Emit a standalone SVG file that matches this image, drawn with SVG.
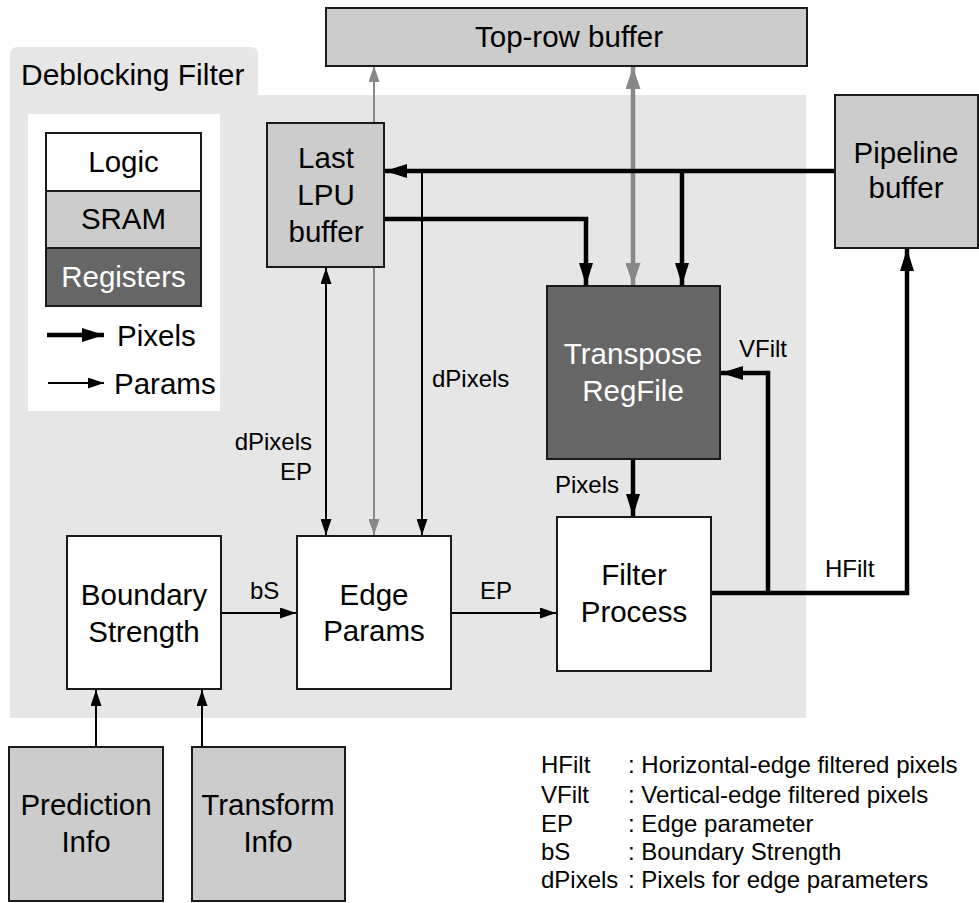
<svg xmlns="http://www.w3.org/2000/svg" width="979" height="903" viewBox="0 0 979 903">
  <style>
    text { font-family: "Liberation Sans", Arial, sans-serif; fill: #000; }
    .node { font-size: 29.5px; text-anchor: middle; }
    .lbl { font-size: 24px; }
    .box { stroke: #1a1a1a; stroke-width: 2; }
    .logic { fill: #ffffff; }
    .sram { fill: #cccccc; }
    .reg { fill: #666666; }
    .thick { stroke: #000; stroke-width: 4.5; fill: none; }
    .thin { stroke: #000; stroke-width: 2; fill: none; }
    .gthin { stroke: #888; stroke-width: 2; fill: none; }
    .gthick { stroke: #888; stroke-width: 4.5; fill: none; }
  </style>
  <defs>
    <marker id="ahThick" markerUnits="userSpaceOnUse" markerWidth="22" markerHeight="14" refX="22" refY="7" orient="auto-start-reverse">
      <path d="M0,0 L22,7 L0,14 Z" fill="#000"/>
    </marker>
    <marker id="ahThin" markerUnits="userSpaceOnUse" markerWidth="16" markerHeight="11" refX="16" refY="5.5" orient="auto-start-reverse">
      <path d="M0,0 L16,5.5 L0,11 Z" fill="#000"/>
    </marker>
    <marker id="ahGThin" markerUnits="userSpaceOnUse" markerWidth="16" markerHeight="11" refX="16" refY="5.5" orient="auto-start-reverse">
      <path d="M0,0 L16,5.5 L0,11 Z" fill="#888"/>
    </marker>
    <marker id="ahGThick" markerUnits="userSpaceOnUse" markerWidth="22" markerHeight="15" refX="22" refY="7.5" orient="auto-start-reverse">
      <path d="M0,0 L22,7.5 L0,15 Z" fill="#888"/>
    </marker>
  </defs>

  <rect width="979" height="903" fill="#ffffff"/>

  <!-- Deblocking Filter enclosure -->
  <g id="deblocking-filter">
    <path d="M10,95 L10,55 Q10,47 18,47 L250,47 Q258,47 258,55 L258,95 L806,95 L806,718 L10,718 Z" fill="#e6e6e6"/>
    <text x="21" y="85" style="font-size:30px">Deblocking Filter</text>
  </g>

  <!-- Legend -->
  <g id="legend">
    <rect x="28" y="114" width="192" height="297" fill="#ffffff"/>
    <rect class="box logic" x="46" y="133" width="155" height="58"/>
    <rect class="box sram" x="46" y="191" width="155" height="57"/>
    <rect class="box reg" x="46" y="248" width="155" height="58"/>
    <text class="node" x="123.5" y="172">Logic</text>
    <text class="node" x="123.5" y="229">SRAM</text>
    <text class="node" x="123.5" y="287" style="fill:#ffffff">Registers</text>
    <line class="thick" x1="47" y1="335" x2="104" y2="335" marker-end="url(#ahThick)"/>
    <text x="117" y="346" style="font-size:29.5px">Pixels</text>
    <line class="thin" x1="48" y1="383" x2="104" y2="383" marker-end="url(#ahThin)"/>
    <text x="114" y="394" style="font-size:29.5px">Params</text>
  </g>

  <!-- Connectors -->
  <g id="connectors">
    <!-- Top-row buffer links -->
    <line class="gthin" x1="374" y1="66" x2="374" y2="535" marker-start="url(#ahGThin)" marker-end="url(#ahGThin)"/>
    <line class="gthick" x1="633" y1="67" x2="633" y2="285" marker-start="url(#ahGThick)" marker-end="url(#ahGThick)"/>
    <!-- Pipeline buffer feed -->
    <line class="thick" x1="835" y1="171" x2="385" y2="171" marker-end="url(#ahThick)"/>
    <line class="thick" x1="682" y1="171" x2="682" y2="285" marker-end="url(#ahThick)"/>
    <line class="thin" x1="422" y1="171" x2="422" y2="535" marker-end="url(#ahThin)"/>
    <!-- Last LPU buffer to Transpose -->
    <polyline class="thick" points="384,219 586,219 586,285" marker-end="url(#ahThick)"/>
    <!-- Last LPU buffer <-> Edge Params -->
    <line class="thin" x1="326" y1="268" x2="326" y2="535" marker-start="url(#ahThin)" marker-end="url(#ahThin)"/>
    <!-- Transpose to Filter Process -->
    <line class="thick" x1="633" y1="459" x2="633" y2="516" marker-end="url(#ahThick)"/>
    <!-- Filter Process outputs -->
    <polyline class="thick" points="711,593 907,593 907,249" marker-end="url(#ahThick)"/>
    <polyline class="thick" points="768,593 768,373 721,373" marker-end="url(#ahThick)"/>
    <!-- Params flow -->
    <line class="thin" x1="221" y1="613" x2="296" y2="613" marker-end="url(#ahThin)"/>
    <line class="thin" x1="451" y1="613" x2="556" y2="613" marker-end="url(#ahThin)"/>
    <line class="thin" x1="96" y1="747" x2="96" y2="690" marker-end="url(#ahThin)"/>
    <line class="thin" x1="202" y1="747" x2="202" y2="690" marker-end="url(#ahThin)"/>

    <!-- Connector labels -->
    <text class="lbl" x="312" y="450" text-anchor="end">dPixels</text>
    <text class="lbl" x="312" y="480" text-anchor="end">EP</text>
    <text class="lbl" x="432" y="387">dPixels</text>
    <text class="lbl" x="619" y="493" text-anchor="end">Pixels</text>
    <text class="lbl" x="739" y="357">VFilt</text>
    <text class="lbl" x="825" y="577">HFilt</text>
    <text class="lbl" x="250" y="599">bS</text>
    <text class="lbl" x="480" y="599">EP</text>
  </g>

  <!-- Nodes -->
  <g id="top-row-buffer">
    <rect class="box sram" x="326" y="8" width="481" height="58"/>
    <text class="node" x="569" y="47">Top-row buffer</text>
  </g>

  <g id="last-lpu-buffer">
    <rect class="box sram" x="267" y="123" width="117" height="144"/>
    <text class="node" x="326" y="168">Last</text>
    <text class="node" x="326" y="205">LPU</text>
    <text class="node" x="326" y="242">buffer</text>
  </g>

  <g id="pipeline-buffer">
    <rect class="box sram" x="835" y="95" width="143" height="153"/>
    <text class="node" x="906" y="163">Pipeline</text>
    <text class="node" x="906" y="198">buffer</text>
  </g>

  <g id="transpose-regfile">
    <rect class="box reg" x="547" y="286" width="173" height="173"/>
    <text class="node" x="633" y="364" style="fill:#ffffff">Transpose</text>
    <text class="node" x="633" y="401" style="fill:#ffffff">RegFile</text>
  </g>

  <g id="filter-process">
    <rect class="box logic" x="557" y="517" width="154" height="154"/>
    <text class="node" x="634" y="585">Filter</text>
    <text class="node" x="634" y="622">Process</text>
  </g>

  <g id="boundary-strength">
    <rect class="box logic" x="67" y="536" width="154" height="153"/>
    <text class="node" x="144" y="605">Boundary</text>
    <text class="node" x="144" y="642">Strength</text>
  </g>

  <g id="edge-params">
    <rect class="box logic" x="297" y="536" width="154" height="153"/>
    <text class="node" x="374" y="605">Edge</text>
    <text class="node" x="374" y="641">Params</text>
  </g>

  <g id="prediction-info">
    <rect class="box sram" x="9" y="747" width="154" height="154"/>
    <text class="node" x="86" y="815">Prediction</text>
    <text class="node" x="86" y="852">Info</text>
  </g>

  <g id="transform-info">
    <rect class="box sram" x="192" y="747" width="153" height="154"/>
    <text class="node" x="268" y="815">Transform</text>
    <text class="node" x="268" y="852">Info</text>
  </g>

  <!-- Abbreviation key -->
  <g id="abbreviations">
    <text class="lbl" x="541" y="773">HFilt</text>
    <text class="lbl" x="628" y="773">: Horizontal-edge filtered pixels</text>
    <text class="lbl" x="541" y="803">VFilt</text>
    <text class="lbl" x="628" y="803">: Vertical-edge filtered pixels</text>
    <text class="lbl" x="541" y="832">EP</text>
    <text class="lbl" x="628" y="832">: Edge parameter</text>
    <text class="lbl" x="541" y="860">bS</text>
    <text class="lbl" x="628" y="860">: Boundary Strength</text>
    <text class="lbl" x="541" y="888">dPixels</text>
    <text class="lbl" x="628" y="888">: Pixels for edge parameters</text>
  </g>
</svg>
